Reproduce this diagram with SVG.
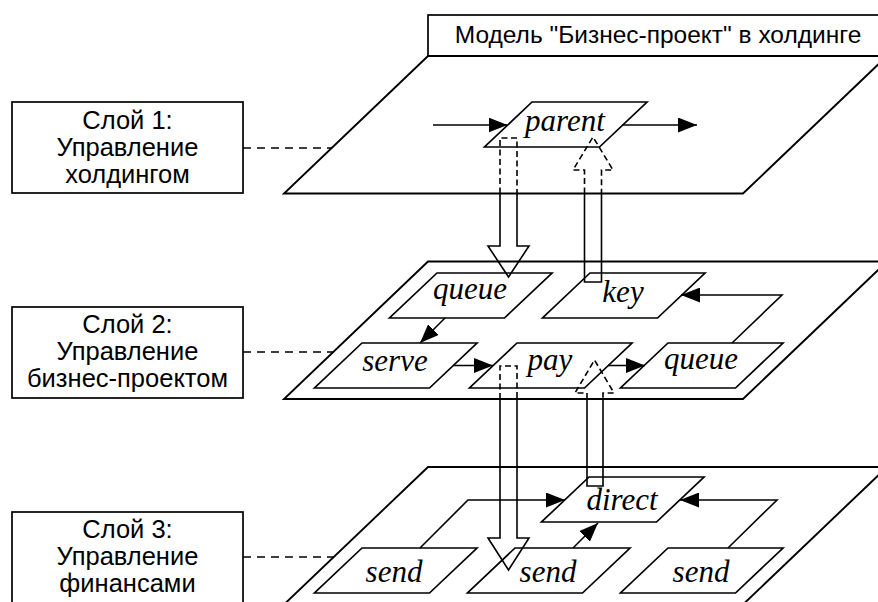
<svg xmlns="http://www.w3.org/2000/svg" width="878" height="602" viewBox="0 0 878 602">
  <style>
    .plane{fill:none;stroke:#000;stroke-width:1.9;stroke-linejoin:miter}
    .node path{fill:none;stroke:#000;stroke-width:1.7}
    .node text{font-family:"Liberation Serif","Times New Roman",serif;font-style:italic;font-size:31px;text-anchor:middle;fill:#000}
    .box rect{fill:#fff;stroke:#000;stroke-width:1.7}
    .box text{font-family:"Liberation Sans",Arial,sans-serif;font-size:25.5px;text-anchor:middle;fill:#000}
    .box text.head{font-size:24.5px}
    .lead{fill:none;stroke:#000;stroke-width:1.4;stroke-dasharray:8 6}
    .flow{fill:none;stroke:#000;stroke-width:1.6;marker-end:url(#ah)}
    .blk{fill:none;stroke:#000;stroke-width:1.6;stroke-linejoin:miter}
    .blk.dash{stroke-dasharray:6 3.5}
  </style>
  <defs>
    <marker id="ah" markerUnits="userSpaceOnUse" markerWidth="19" markerHeight="15" refX="19" refY="7.5" orient="auto">
      <path d="M0,0 L19,7.5 L0,15 z" fill="#000"/>
    </marker>
  </defs>

  <!-- title -->
  <g id="title" class="box">
    <rect x="428" y="15" width="452" height="41"/>
    <text class="head" x="658" y="43">Модель "Бизнес-проект" в холдинге</text>
  </g>

  <!-- the three layer planes -->
  <g id="planes">
    <path class="plane" d="M428 56H887L743 193.5H284Z"/>
    <path class="plane" d="M428 261.5H887L743 399H284Z"/>
    <path class="plane" d="M428 467H887L743 604.5H284Z"/>
  </g>

  <!-- layer captions -->
  <g id="layer1" class="box">
    <rect x="12" y="102" width="231" height="91"/>
    <text x="127.5" y="129">Слой 1:</text>
    <text x="127.5" y="156">Управление</text>
    <text x="127.5" y="183">холдингом</text>
  </g>
  <g id="layer2" class="box">
    <rect x="12" y="307" width="231" height="91"/>
    <text x="127.5" y="333">Слой 2:</text>
    <text x="127.5" y="360">Управление</text>
    <text x="127.5" y="387">бизнес-проектом</text>
  </g>
  <g id="layer3" class="box">
    <rect x="12" y="512" width="231" height="100"/>
    <text x="127.5" y="538">Слой 3:</text>
    <text x="127.5" y="565">Управление</text>
    <text x="127.5" y="592">финансами</text>
  </g>

  <!-- nodes -->
  <g id="n-parent" class="node"><path d="M532 102h115l-47.5 45h-115z"/><text x="565" y="131">parent</text></g>
  <g id="n-queue1" class="node"><path d="M437 273h115l-47.5 45h-115z"/><text x="470" y="299">queue</text></g>
  <g id="n-key" class="node"><path d="M590 273h115l-47.5 45h-115z"/><text x="623" y="302">key</text></g>
  <g id="n-serve" class="node"><path d="M362 343h115l-47.5 45h-115z"/><text x="395" y="371">serve</text></g>
  <g id="n-pay" class="node"><path d="M517 343h115l-47.5 45h-115z"/><text x="550" y="370">pay</text></g>
  <g id="n-queue2" class="node"><path d="M668 343h115l-47.5 45h-115z"/><text x="701" y="369">queue</text></g>
  <g id="n-direct" class="node"><path d="M589 477h115l-47.5 45h-115z"/><text x="622" y="510">direct</text></g>
  <g id="n-send1" class="node"><path d="M362 548h115l-47.5 45h-115z"/><text x="394" y="582">send</text></g>
  <g id="n-send2" class="node"><path d="M515 548h115l-47.5 45h-115z"/><text x="548" y="582">send</text></g>
  <g id="n-send3" class="node"><path d="M668 548h115l-47.5 45h-115z"/><text x="701" y="582">send</text></g>

  <!-- connectors -->
  <g id="connectors">
    <!-- leaders from captions to planes -->
    <path class="lead" d="M243 148H332"/>
    <path class="lead" d="M243 352H333"/>
    <path class="lead" d="M243 557H333"/>

    <!-- flows inside the planes -->
    <path class="flow" d="M433 125H507.5"/>
    <path class="flow" d="M622 125H697"/>
    <path class="flow" d="M445 318L420 343"/>
    <path class="flow" d="M453 365.5H493"/>
    <path class="flow" d="M608 365.5H645"/>
    <path class="flow" d="M732 343L782 295H681"/>
    <path class="flow" d="M420 548L468 500H565"/>
    <path class="flow" d="M573 548L598 523"/>
    <path class="flow" d="M728 548L777 500H680"/>

    <!-- block arrows between layers: dashed where hidden by the plane above -->
    <path class="blk dash" d="M500 193.5V138H517V193.5"/>
    <path class="blk" d="M500 193.5V246H488L508.5 277L529 246H517V193.5"/>

    <path class="blk" d="M584.5 193.5V282H601.5V193.5"/>
    <path class="blk dash" d="M584.5 193.5V170H573L593 137L613 170H601.5V193.5"/>

    <path class="blk dash" d="M500 399V366H517V399"/>
    <path class="blk" d="M500 399V538H488L508.5 570L529 538H517V399"/>

    <path class="blk" d="M587 399V486H603V399"/>
    <path class="blk dash" d="M587 399V393H575L594.5 360L614 393H603V399"/>
  </g>
</svg>
